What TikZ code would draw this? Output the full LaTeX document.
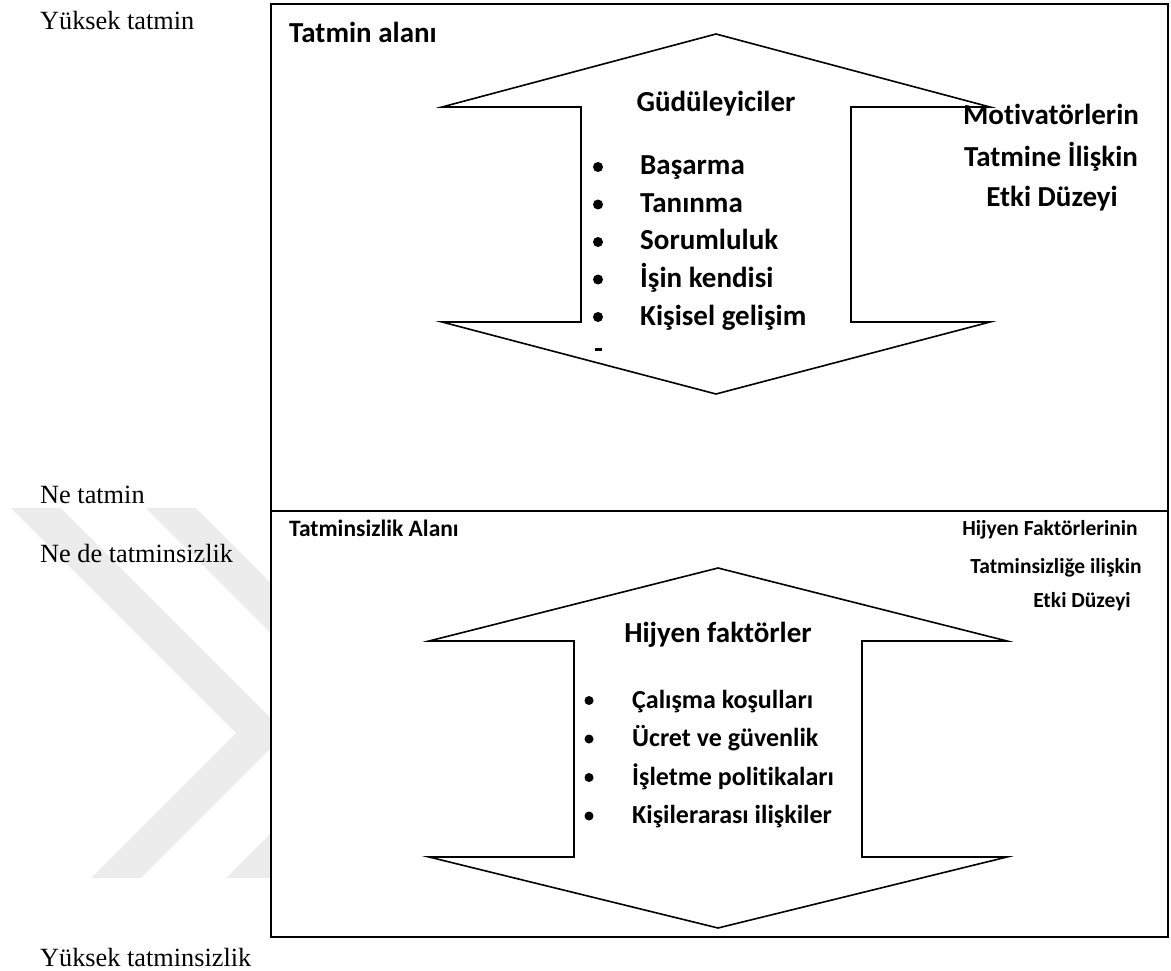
\documentclass[tikz,border=0pt]{standalone}
\usepackage{fontspec}
\setmainfont{Carlito}[Ligatures={NoCommon}]
\newfontfamily\tnr{Liberation Serif}
\definecolor{wm}{HTML}{ECECEC}
\begin{document}
\begin{tikzpicture}[x=1pt,y=-1pt,
  side/.style={font=\tnr\fontsize{26.3}{30}\selectfont, anchor=base west, inner sep=0pt},
  bigb/.style={font=\bfseries\fontsize{29}{34}\selectfont, inner sep=0pt},
  midb/.style={font=\bfseries\fontsize{26}{30}\selectfont, inner sep=0pt},
  smb/.style={font=\bfseries\fontsize{23.5}{28}\selectfont, inner sep=0pt},
  tinyb/.style={font=\bfseries\fontsize{21.5}{26}\selectfont, inner sep=0pt},
  bul/.style={circle, fill=black, inner sep=0pt, minimum size=#1},
  frame/.style={draw=black, line width=1.8pt},
  arr/.style={draw=black, line width=1.6pt, line join=miter, fill=white}]
\useasboundingbox (0,0) rectangle (1171,971);

% watermark
\fill[wm] (11,508) -- (61,508) -- (286,733) -- (141,878) -- (91,878) -- (236,733) -- cycle;
\fill[wm] (146,508) -- (196,508) -- (421,733) -- (276,878) -- (226,878) -- (371,733) -- cycle;

% frame
\draw[frame, fill=white] (271,4) rectangle (1168,937);
\draw[frame] (271,511) -- (1168,511);

% upper double arrow
\draw[arr] (716,34) -- (990,107) -- (851,107) -- (851,322) -- (990,322) -- (716,394)
  -- (442,322) -- (581,322) -- (581,107) -- (442,107) -- cycle;

% lower double arrow
\draw[arr] (718,568) -- (1007,641) -- (862,641) -- (862,857) -- (1007,857) -- (718,928)
  -- (429,857) -- (574,857) -- (574,641) -- (429,641) -- cycle;

% side labels
\node[side] (s1) at (40,30) {Yüksek tatmin};
\node[side] (s2) at (40,503) {Ne tatmin};
\node[side] (s3) at (40,562) {Ne de tatminsizlik};
\node[side] (s4) at (40,966) {Yüksek tatminsizlik};

% upper area
\node[bigb, anchor=base west] (ta) at (289,43) {Tatmin alanı};
\node[bigb, anchor=base] (gu) at (716,112) {Güdüleyiciler};
\foreach \t [count=\i] in {Başarma, Tanınma, Sorumluluk, İşin kendisi, Kişisel gelişim}{
  \node[bigb, anchor=base west] (u\i) at (640,{175+37.5*(\i-1)}) {\t};
  \node[bul=10pt] (ub\i) at (598,{167+37.5*(\i-1)}) {};
}
\fill (594.5,348) rectangle (601.5,350.5);
\node[bigb, anchor=base] (m1) at (1051,125) {Motivatörlerin};
\node[bigb, anchor=base] (m2) at (1051,167) {Tatmine İlişkin};
\node[bigb, anchor=base] (m3) at (1052,207) {Etki Düzeyi};

% lower area
\node[smb, anchor=base west] (tz) at (289,536) {Tatminsizlik Alanı};
\node[bigb, anchor=base] (hf) at (718,642) {Hijyen faktörler};
\foreach \t [count=\i] in {Çalışma koşulları, Ücret ve güvenlik, İşletme politikaları, Kişilerarası ilişkiler}{
  \node[midb, anchor=base west] (l\i) at (632,{708+38.5*(\i-1)}) {\t};
  \node[bul=9pt] (lb\i) at (589,{700.5+38.5*(\i-1)}) {};
}
\node[tinyb, anchor=base] (h1) at (1050,535) {Hijyen Faktörlerinin};
\node[tinyb, anchor=base] (h2) at (1056,573) {Tatminsizliğe ilişkin};
\node[tinyb, anchor=base] (h3) at (1082,607) {Etki Düzeyi};
\end{tikzpicture}
\end{document}
